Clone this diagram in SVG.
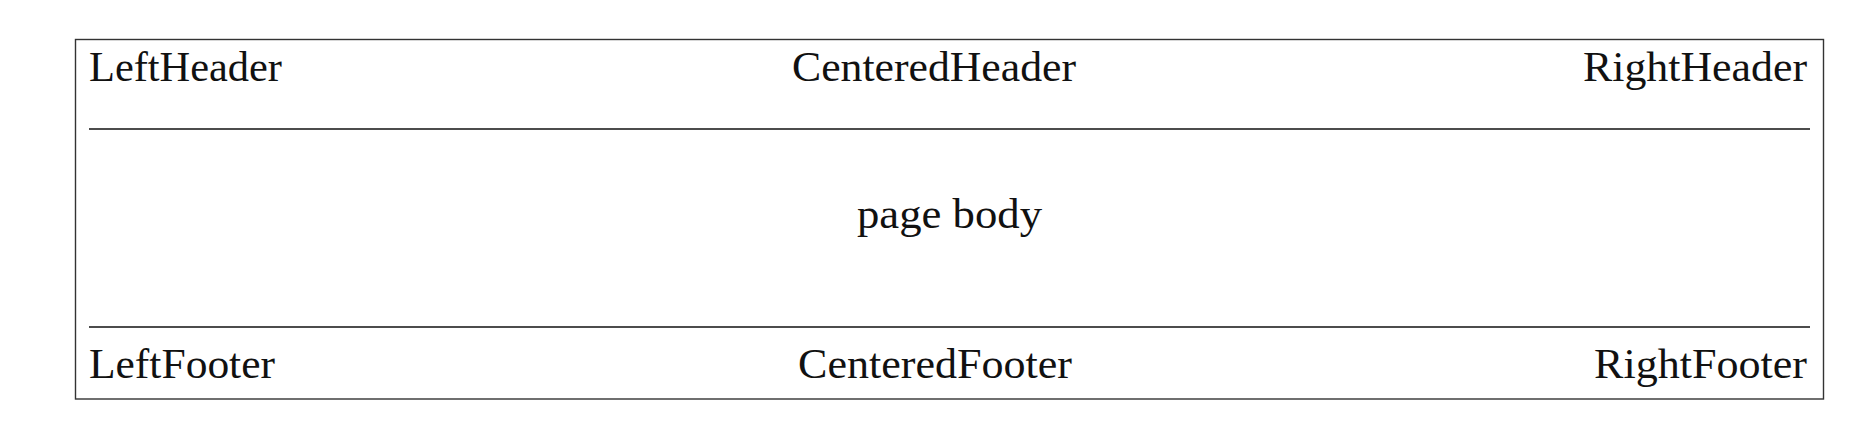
<svg xmlns="http://www.w3.org/2000/svg" width="1860" height="438" viewBox="0 0 1860 438">
<style>
.t{font-family:"Liberation Serif","DejaVu Serif",serif;font-size:42px;fill:#111}
.frame{fill:none;stroke:#333;stroke-width:1.4}
.rule{stroke:#111;stroke-width:1.4}
</style>
<rect width="1860" height="438" fill="#fff"/>
<g id="page">
<rect class="frame" x="75.5" y="39.5" width="1748" height="359.5"/>
</g>
<g id="rules">
<line class="rule" x1="89" y1="129" x2="1810" y2="129"/>
<line class="rule" x1="89" y1="327" x2="1810" y2="327"/>
</g>
<g id="header">
<text class="t" x="89" y="81" textLength="193" lengthAdjust="spacingAndGlyphs">LeftHeader</text>
<text class="t" x="792" y="81" textLength="284" lengthAdjust="spacingAndGlyphs">CenteredHeader</text>
<text class="t" x="1583" y="81" textLength="224" lengthAdjust="spacingAndGlyphs">RightHeader</text>
</g>
<g id="body">
<text class="t" x="857" y="228" textLength="185" lengthAdjust="spacingAndGlyphs">page body</text>
</g>
<g id="footer">
<text class="t" x="89" y="378" textLength="186" lengthAdjust="spacingAndGlyphs">LeftFooter</text>
<text class="t" x="798" y="378" textLength="274" lengthAdjust="spacingAndGlyphs">CenteredFooter</text>
<text class="t" x="1594" y="378" textLength="213" lengthAdjust="spacingAndGlyphs">RightFooter</text>
</g>
</svg>
